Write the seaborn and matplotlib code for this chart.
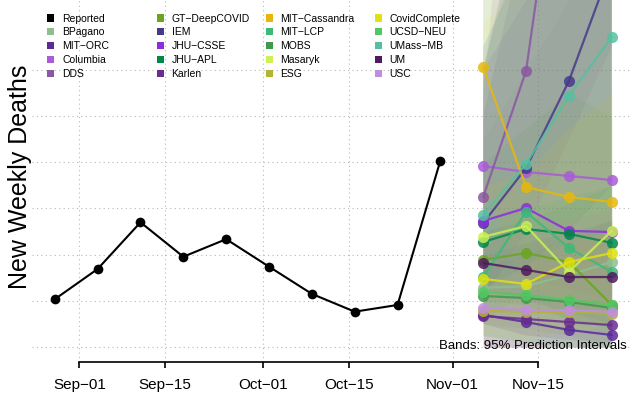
import numpy as np
import pandas as pd
import matplotlib
matplotlib.use("Agg")
import matplotlib.pyplot as plt
import matplotlib.dates as mdates
import seaborn as sns
from matplotlib.patches import Patch
from matplotlib.legend import Legend

sns.set_style("white")
plt.rcParams["font.family"] = ["Liberation Sans", "DejaVu Sans"]
plt.rcParams["text.color"] = "black"
plt.rcParams["axes.labelcolor"] = "black"
plt.rcParams["xtick.color"] = "black"
plt.rcParams["ytick.color"] = "black"

# ---------------- data ----------------
reported_dates = pd.date_range("2020-08-28", periods=10, freq="7D")
reported_values = [20.7, 33.8, 54.0, 39.1, 46.7, 34.8, 23.0, 15.3, 18.2, 80.7]

forecast_dates = pd.date_range("2020-11-06", periods=4, freq="7D")

models = ["BPagano", "MIT\u2212ORC", "Columbia", "DDS", "GT\u2212DeepCOVID", "IEM",
          "JHU\u2212CSSE", "JHU\u2212APL", "Karlen", "MIT\u2212Cassandra", "MIT\u2212LCP",
          "MOBS", "Masaryk", "ESG", "CovidComplete", "UCSD\u2212NEU", "UMass\u2212MB",
          "UM", "USC"]
model_colors = ["#8fbf8f", "#5a2a9a", "#a85cd6", "#8a58a0", "#6aa520", "#453a8a",
                "#8c2be0", "#00874a", "#6a2c90", "#e6b80e", "#3cba78",
                "#3f9a4c", "#ccf055", "#b2b435", "#e0e012", "#52c860", "#55c0a0",
                "#4f1a60", "#c08ee0"]

bpagano = [25.6, 26.4, 31.2, 36.8]
mit_orc = [13.9, 10.8, 7.4, 5.2]
columbia = [78.4, 75.8, 74.1, 72.3]
dds = [65.0, 119.6, 250.0, 380.0]
gt_deepcovid = [37.7, 40.7, 36.8, 18.2]
iem = [53.7, 77.5, 115.2, 165.5]
jhu_csse = [54.6, 60.2, 50.3, 49.8]
jhu_apl = [45.5, 51.1, 49.0, 45.1]
karlen = [13.4, 12.1, 10.8, 9.5]
mit_cassandra = [121.3, 69.3, 65.0, 62.8]
mit_lcp = [30.3, 58.5, 42.9, 32.5]
mobs = [22.1, 21.2, 19.5, 16.9]
masaryk = [47.7, 52.4, 32.5, 50.3]
esg = [15.6, 15.2, 15.2, 14.3]
covidcomplete = [29.5, 27.3, 36.8, 40.7]
ucsd_neu = [23.8, 22.5, 20.4, 18.2]
umass_mb = [57.2, 79.3, 108.7, 134.3]
um = [36.4, 33.4, 30.3, 30.3]
usc = [16.9, 16.0, 16.0, 15.2]

medians = [bpagano, mit_orc, columbia, dds, gt_deepcovid, iem, jhu_csse, jhu_apl,
           karlen, mit_cassandra, mit_lcp, mobs, masaryk, esg, covidcomplete,
           ucsd_neu, umass_mb, um, usc]

lower = [[0, 0, 0, 0], [0, 0, 0, 0], [40, 30, 25, 20], [20, 50, 90, 130],
         [10, 8, 5, 0], [25, 35, 50, 70], [25, 20, 15, 10], [20, 18, 12, 8],
         [0, 0, 0, 0], [70, 25, 20, 15], [10, 25, 10, 5], [5, 2, 0, 0],
         [20, 18, 5, 10], [0, 0, 0, 0], [5, 3, 8, 8], [5, 2, 0, 0],
         [25, 35, 45, 50], [10, 5, 3, 2], [0, 0, 0, 0]]
upper = [[90, 120, 150, 170], [40, 45, 50, 55], [130, 170, 220, 260], [110, 300, 500, 700],
         [80, 95, 110, 100], [100, 180, 260, 350], [120, 150, 170, 190], [160, 175, 190, 210],
         [35, 40, 48, 55], [200, 160, 170, 180], [120, 190, 200, 220], [50, 55, 62, 70],
         [140, 160, 170, 200], [45, 50, 55, 60], [70, 75, 95, 110], [55, 60, 65, 70],
         [130, 170, 230, 300], [120, 200, 250, 300], [45, 50, 55, 60]]

tick_dates = pd.to_datetime(["2020-09-01", "2020-09-15", "2020-10-01",
                             "2020-10-15", "2020-11-01", "2020-11-15"])
tick_labels = ["Sep\u221201", "Sep\u221215", "Oct\u221201", "Oct\u221215",
               "Nov\u221201", "Nov\u221215"]
grid_values = [0, 20, 40, 60, 80, 100, 120]

# ---------------- figure ----------------
W, H = 631, 397
fig = plt.figure(figsize=(W / 100, H / 100), dpi=100)
ax = fig.add_axes([32 / W, (H - 362) / H, (631 - 32) / W, 362 / H])

# prediction bands
for lo, hi, c in zip(lower, upper, model_colors):
    ax.fill_between(forecast_dates, lo, hi, color=c, alpha=0.1, lw=0, zorder=1)

# reported series
rep = pd.DataFrame({"date": reported_dates, "deaths": reported_values})
sns.lineplot(data=rep, x="date", y="deaths", color="black", marker="o",
             markersize=7, markeredgewidth=0, linewidth=1.5, ax=ax, zorder=3)

# forecasts
fc = pd.DataFrame({
    "date": np.tile(forecast_dates, len(models)),
    "deaths": np.concatenate(medians),
    "model": np.repeat(models, len(forecast_dates)),
})
sns.lineplot(data=fc, x="date", y="deaths", hue="model", hue_order=models,
             palette=model_colors, marker="o", markersize=8, markeredgewidth=0,
             linewidth=1.6, alpha=0.85, legend=False, errorbar=None, ax=ax,
             zorder=4, sort=False)

# axes styling
ax.set_xlim(mdates.date2num(pd.Timestamp("2020-08-24 06:30")),
            mdates.date2num(pd.Timestamp("2020-11-30 03:36")))
ax.set_ylim(-6.5, 150.3)
tick_nums = mdates.date2num(tick_dates)
ax.set_xticks(tick_nums)
ax.set_xticklabels(tick_labels, fontsize=11, color="black")
ax.set_yticks(grid_values)
ax.set_yticklabels([])
ax.tick_params(axis="y", left=False, length=0)
ax.tick_params(axis="x", bottom=True, direction="out", length=4.5, width=1.2,
               pad=7, color="black")
ax.grid(True, linestyle=(0, (1, 3)), color="#b8b8b8", linewidth=0.8)
ax.set_axisbelow(True)
for s in ["left", "top", "right"]:
    ax.spines[s].set_visible(False)
ax.spines["bottom"].set_bounds(tick_nums[0], tick_nums[-1])
ax.spines["bottom"].set_linewidth(1.2)
ax.spines["bottom"].set_color("black")
ax.set_xlabel("")
ax.set_ylabel("New Weekly Deaths", fontsize=18, color="black")
ax.yaxis.set_label_coords((20.5 - 32) / 599, (362 - 176.5) / 362)
ax.yaxis.label.set_verticalalignment("center")

# legend in 4 columns
all_labels = ["Reported"] + models
all_colors = ["black"] + model_colors
col_x = [47, 156.5, 265.5, 374.5]
for ci in range(4):
    labs = all_labels[ci * 5:(ci + 1) * 5]
    cols = all_colors[ci * 5:(ci + 1) * 5]
    handles = [Patch(facecolor=c, edgecolor="none") for c in cols]
    leg = Legend(ax, handles, labs, loc="upper left",
                 bbox_to_anchor=(col_x[ci] / W, 1 - 13.5 / H),
                 bbox_transform=fig.transFigure, frameon=False, fontsize=7.5,
                 handlelength=0.7, handleheight=0.7, handletextpad=0.75,
                 labelspacing=0.38, borderpad=0, borderaxespad=0,
                 labelcolor="black")
    ax.add_artist(leg)

fig.text(627 / W, 1 - 346 / H, "Bands: 95% Prediction Intervals", ha="right",
         va="center", fontsize=9.5, color="black")

fig.savefig("out.png", dpi=100)
